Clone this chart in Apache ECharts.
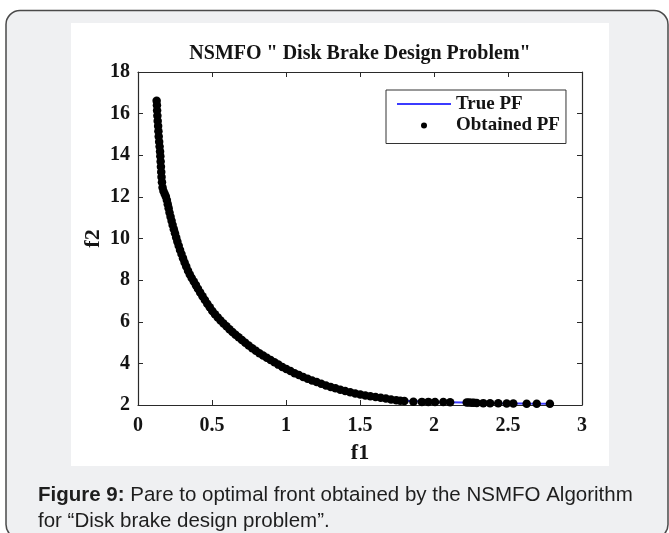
<!DOCTYPE html>
<html>
<head>
<meta charset="utf-8">
<script src="https://cdn.jsdelivr.net/npm/echarts@6/dist/echarts.min.js"></script>
<style>
html,body{margin:0;padding:0;background:#fff;}
#c{width:669px;height:533px;}
</style>
</head>
<body>
<div id="c"></div>
<script>
// ---- data ----
const chartTitle = 'NSMFO " Disk Brake Design Problem"';
const xName = 'f1';
const yName = 'f2';
const seriesNames = ['True PF', 'Obtained PF'];
const xTicks = [0, 0.5, 1, 1.5, 2, 2.5, 3];
const yTicks = [2, 4, 6, 8, 10, 12, 14, 16, 18];
const captionBold = 'Figure 9:';
const captionRest = ' Pare to optimal front obtained by the NSMFO Algorithm';
const captionLine2 = 'for \u201cDisk brake design problem\u201d.';

// True PF (blue line)
const trueF1 = [0.125,0.135,0.145,0.155,0.165,0.18,0.2,0.22,0.25,0.3,0.35,0.4,0.5,0.6,0.7,0.8,0.9,1.0,1.2,1.4,1.6,1.8,2.0,2.2,2.4,2.6,2.8];
const trueF2 = [16.6,15.3,14.3,13.3,12.5,11.95,11.4,10.9,10.2,9.25,8.3,7.6,6.5,5.8,5.13,4.58,4.13,3.75,3.1,2.68,2.4,2.2,2.15,2.12,2.09,2.07,2.06];

// Obtained PF (black points)
const obtF1 = [0.126,0.128,0.129,0.131,0.133,0.136,0.138,0.140,0.143,0.146,0.149,0.151,0.153,0.155,0.157,0.159,0.162,0.166,0.172,0.180,0.188,0.195,0.201,0.207,0.213,0.220,0.227,0.234,0.242,0.250,0.258,0.266,0.275,0.284,0.294,0.304,0.315,0.326,0.338,0.350,0.363,0.377,0.391,0.405,0.420,0.436,0.452,0.468,0.485,0.502,0.520,0.539,0.558,0.578,0.598,0.618,0.638,0.659,0.680,0.702,0.725,0.748,0.772,0.796,0.820,0.845,0.870,0.896,0.922,0.948,0.975,1.002,1.030,1.058,1.087,1.116,1.146,1.176,1.207,1.238,1.270,1.302,1.334,1.367,1.400,1.434,1.468,1.502,1.536,1.570,1.605,1.640,1.675,1.710,1.745,1.772,1.800,1.861,1.918,1.962,2.007,2.063,2.109,2.221,2.237,2.255,2.270,2.289,2.333,2.379,2.434,2.491,2.536,2.626,2.694,2.783];
const obtF2 = [16.62,16.40,16.15,15.90,15.65,15.40,15.15,14.90,14.65,14.42,14.18,13.95,13.70,13.45,13.20,12.95,12.70,12.45,12.28,12.15,12.02,11.85,11.65,11.45,11.25,11.05,10.85,10.65,10.45,10.25,10.05,9.85,9.65,9.45,9.25,9.05,8.85,8.65,8.45,8.27,8.10,7.93,7.76,7.58,7.40,7.22,7.04,6.87,6.70,6.52,6.36,6.21,6.06,5.92,5.78,5.64,5.51,5.38,5.25,5.12,4.99,4.86,4.73,4.61,4.49,4.38,4.27,4.16,4.05,3.94,3.83,3.73,3.63,3.53,3.44,3.35,3.26,3.18,3.10,3.02,2.94,2.87,2.80,2.73,2.67,2.61,2.55,2.50,2.46,2.42,2.38,2.35,2.31,2.27,2.23,2.21,2.19,2.16,2.15,2.15,2.14,2.14,2.13,2.12,2.12,2.11,2.11,2.10,2.09,2.08,2.08,2.07,2.07,2.06,2.06,2.06];

const truePF = trueF1.map((v, i) => [v, trueF2[i]]);
const obtPF = obtF1.map((v, i) => [v, obtF2[i]]);

const serif = '"Liberation Serif", "Times New Roman", serif';
const axisColor = '#2a2a2a';
const labelStyle = {fontFamily: serif, fontWeight: 'bold', fontSize: 20, color: '#141414'};

function xAxisCfg(pos, show) {
  return {
    type: 'value', position: pos, min: xTicks[0], max: xTicks[xTicks.length - 1],
    interval: xTicks[1] - xTicks[0],
    axisLine: {show: true, onZero: false, lineStyle: {color: axisColor, width: 1.2}},
    axisTick: {show: true, inside: true, length: 5, lineStyle: {color: axisColor}},
    axisLabel: Object.assign({show: show, margin: 11}, labelStyle),
    splitLine: {show: false},
    name: show ? xName : '', nameLocation: 'middle', nameGap: 37,
    nameTextStyle: {fontFamily: serif, fontWeight: 'bold', fontSize: 22, color: '#141414'}
  };
}
function yAxisCfg(pos, show) {
  return {
    type: 'value', position: pos, min: yTicks[0], max: yTicks[yTicks.length - 1],
    interval: yTicks[1] - yTicks[0],
    axisLine: {show: true, onZero: false, lineStyle: {color: axisColor, width: 1.2}},
    axisTick: {show: true, inside: true, length: 5, lineStyle: {color: axisColor}},
    axisLabel: Object.assign({show: show, margin: 8}, labelStyle),
    splitLine: {show: false},
    name: show ? yName : '', nameLocation: 'middle', nameGap: 34, nameMoveOverlap: false,
    nameTextStyle: {fontFamily: serif, fontWeight: 'bold', fontSize: 22, color: '#141414'}
  };
}

const chart = echarts.init(document.getElementById('c'), null, {renderer: 'canvas'});
chart.setOption({
  animation: false,
  backgroundColor: '#ffffff',
  graphic: [
    {type: 'rect', z: -10, shape: {x: 6, y: 10.5, width: 662, height: 528, r: 14},
     style: {fill: '#eff0f2', stroke: '#4a4a4a', lineWidth: 1.5}},
    {type: 'rect', z: -9, shape: {x: 71, y: 23, width: 538, height: 443},
     style: {fill: '#ffffff'}},
    {type: 'text', z: 5, x: 360, y: 53.5,
     style: {text: chartTitle, font: 'bold 20px ' + serif, fill: '#141414', align: 'center', verticalAlign: 'middle'}},
    {type: 'text', z: 5, x: 38, y: 482,
     style: {
       text: '{b|' + captionBold + '}{r|' + captionRest + '}\n{r|' + captionLine2 + '}',
       verticalAlign: 'top', align: 'left',
       rich: {
         b: {fontFamily: '"Liberation Sans", Arial, sans-serif', fontWeight: 'bold', fontSize: 20.5, fill: '#1e1e1e', lineHeight: 26.5},
         r: {fontFamily: '"Liberation Sans", Arial, sans-serif', fontWeight: 'normal', fontSize: 20.5, fill: '#1e1e1e', lineHeight: 26.5}
       }
     }}
  ],
  grid: {left: 138, top: 72, width: 444, height: 333, containLabel: false},
  xAxis: [xAxisCfg('bottom', true), xAxisCfg('top', false)],
  yAxis: [yAxisCfg('left', true), yAxisCfg('right', false)],
  legend: {
    orient: 'vertical', left: 386, top: 90,
    backgroundColor: '#ffffff', borderColor: '#333333', borderWidth: 1, borderRadius: 0,
    padding: [4, 6, 8, 10], itemGap: 1.5, itemWidth: 54, itemHeight: 6, itemTextGap: 7,
    textStyle: {fontFamily: serif, fontWeight: 'bold', fontSize: 19, color: '#141414', lineHeight: 20},
    data: [
      {name: seriesNames[0], itemStyle: {color: 'rgba(0,0,0,0)', opacity: 0, borderWidth: 0}},
      {name: seriesNames[1], itemStyle: {color: '#000000', opacity: 1}}
    ]
  },
  series: [
    {name: seriesNames[0], type: 'line', data: truePF, xAxisIndex: 0, yAxisIndex: 0,
     symbol: 'none', showSymbol: false, smooth: false, lineStyle: {color: '#3b3bff', width: 2}, itemStyle: {color: '#3b3bff'}, z: 2},
    {name: seriesNames[1], type: 'scatter', data: obtPF, xAxisIndex: 0, yAxisIndex: 0,
     symbol: 'circle', symbolSize: 8.5, itemStyle: {color: '#000000', opacity: 1}, z: 3}
  ]
});
</script>
</body>
</html>
